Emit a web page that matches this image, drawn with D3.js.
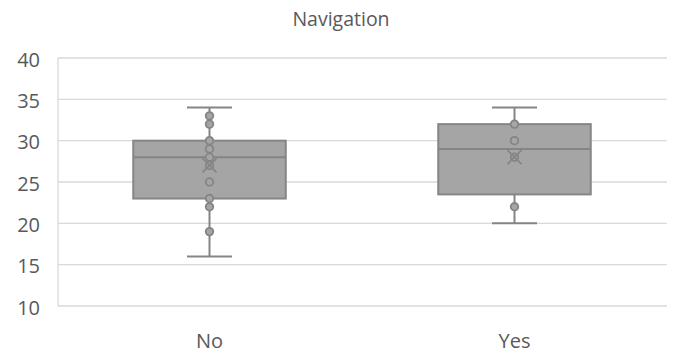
<!DOCTYPE html>
<html>
<head>
<meta charset="utf-8">
<script src="https://cdn.jsdelivr.net/npm/d3@7"></script>
<style>
  html, body { margin: 0; padding: 0; background: #fff; }
  svg { display: block; }
  text { font-family: "Open Sans", "Liberation Sans", sans-serif; fill: #595959; }
</style>
</head>
<body>
<script>
// Box-and-whisker summary per group
const categories = ["No", "Yes"];
const q1Values = [23, 23.5];
const medianValues = [28, 29];
const q3Values = [30, 32];
const whiskerLow = [16, 20];
const whiskerHigh = [34, 34];
const meanValues = [27, 28];
// Individual (inner) points plotted over each box
const pointsNo = [33, 32, 30, 29, 28, 27, 25, 23, 22, 19];
const pointsYes = [32, 30, 28, 22];
const pointSets = [pointsNo, pointsYes];
const yTicks = [10, 15, 20, 25, 30, 35, 40];
const chartTitle = "Navigation";

const W = 676, H = 354;
const margin = { left: 57, right: 9, top: 58, bottom: 48 };

const svg = d3.select("body").append("svg")
  .attr("width", W).attr("height", H);

const x = d3.scaleBand()
  .domain(categories)
  .range([margin.left, W - margin.right]);

const y = d3.scaleLinear()
  .domain([10, 40])
  .range([H - margin.bottom, margin.top]);

// Horizontal gridlines
svg.append("g").selectAll("line")
  .data(yTicks)
  .join("line")
  .attr("x1", margin.left + 1)
  .attr("x2", W - margin.right)
  .attr("y1", d => y(d))
  .attr("y2", d => y(d))
  .attr("stroke", "#d9d9d9")
  .attr("stroke-width", 1.3);

// Vertical axis line
svg.append("line")
  .attr("x1", margin.left + 1).attr("x2", margin.left + 1)
  .attr("y1", y(40)).attr("y2", y(10))
  .attr("stroke", "#d9d9d9").attr("stroke-width", 1.3);

// Y tick labels
const yAxis = d3.axisLeft(y).tickValues(yTicks).tickSize(0).tickPadding(0);
const yg = svg.append("g")
  .attr("transform", `translate(${margin.left - 17},0)`)
  .call(yAxis);
yg.select(".domain").remove();
yg.selectAll("text")
  .attr("font-size", 20)
  .attr("dy", "0.4em")
  .style("font-family", "'Open Sans', sans-serif")
  .attr("fill", "#595959");

// X category labels
const xAxis = d3.axisBottom(x).tickSize(0).tickPadding(0);
const xg = svg.append("g")
  .attr("transform", `translate(0,${H - 6})`)
  .call(xAxis);
xg.select(".domain").remove();
xg.selectAll("text")
  .attr("font-size", 20)
  .attr("dy", 0)
  .attr("y", 0)
  .style("font-family", "'Open Sans', sans-serif")
  .attr("fill", "#595959");

// Title
svg.append("text")
  .attr("x", 341)
  .attr("y", 26)
  .attr("text-anchor", "middle")
  .attr("font-size", 19.5)
  .text(chartTitle);

const boxW = x.bandwidth() * 0.5;
const capW = 45;
const stroke = "#858585";
const fill = "#a5a5a5";

const groups = svg.append("g").selectAll("g")
  .data(categories)
  .join("g")
  .attr("transform", d => `translate(${x(d) + x.bandwidth() / 2},0)`);

// Whisker stems
groups.append("line")
  .attr("x1", 0).attr("x2", 0)
  .attr("y1", (d, i) => y(whiskerHigh[i]))
  .attr("y2", (d, i) => y(q3Values[i]))
  .attr("stroke", stroke).attr("stroke-width", 2);
groups.append("line")
  .attr("x1", 0).attr("x2", 0)
  .attr("y1", (d, i) => y(q1Values[i]))
  .attr("y2", (d, i) => y(whiskerLow[i]))
  .attr("stroke", stroke).attr("stroke-width", 2);

// Whisker caps
groups.append("line")
  .attr("x1", -capW / 2).attr("x2", capW / 2)
  .attr("y1", (d, i) => y(whiskerHigh[i]))
  .attr("y2", (d, i) => y(whiskerHigh[i]))
  .attr("stroke", stroke).attr("stroke-width", 2);
groups.append("line")
  .attr("x1", -capW / 2).attr("x2", capW / 2)
  .attr("y1", (d, i) => y(whiskerLow[i]))
  .attr("y2", (d, i) => y(whiskerLow[i]))
  .attr("stroke", stroke).attr("stroke-width", 2);

// Boxes
groups.append("rect")
  .attr("x", -boxW / 2)
  .attr("width", boxW)
  .attr("y", (d, i) => y(q3Values[i]))
  .attr("height", (d, i) => y(q1Values[i]) - y(q3Values[i]))
  .attr("fill", fill)
  .attr("stroke", stroke).attr("stroke-width", 2);

// Median lines
groups.append("line")
  .attr("x1", -boxW / 2).attr("x2", boxW / 2)
  .attr("y1", (d, i) => y(medianValues[i]))
  .attr("y2", (d, i) => y(medianValues[i]))
  .attr("stroke", stroke).attr("stroke-width", 2);

// Inner points
groups.each(function (d, i) {
  d3.select(this).selectAll("circle")
    .data(pointSets[i])
    .join("circle")
    .attr("cx", 0)
    .attr("cy", v => y(v))
    .attr("r", 3.8)
    .attr("fill", fill)
    .attr("stroke", stroke)
    .attr("stroke-width", 1.8);
});

// Mean markers (X)
const mk = 7;
groups.append("path")
  .attr("d", (d, i) => {
    const cy = y(meanValues[i]);
    return `M${-mk},${cy - mk}L${mk},${cy + mk}M${-mk},${cy + mk}L${mk},${cy - mk}`;
  })
  .attr("stroke", stroke).attr("stroke-width", 1.8).attr("fill", "none");
</script>
</body>
</html>
